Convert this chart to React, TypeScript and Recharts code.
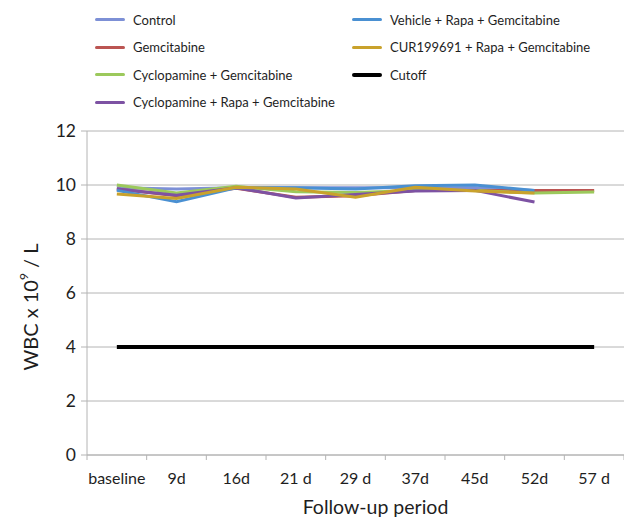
import { LineChart, Line, XAxis, YAxis, CartesianGrid } from "recharts";

const periods = ["baseline", "9d", "16d", "21 d", "29 d", "37d", "45d", "52d", "57 d"];

const control = [9.9, 9.85, 9.9, 9.9, 9.9, 9.9, 9.9, 9.8, null];
const gemcitabine = [9.85, 9.6, 9.88, 9.55, 9.6, 9.8, 9.8, 9.8, 9.8];
const cycloGem = [10.0, 9.7, 9.95, 9.75, 9.72, 9.8, 9.8, 9.7, 9.74];
const cycloRapaGem = [9.85, 9.62, 9.9, 9.52, 9.65, 9.78, 9.8, 9.37, null];
const vehicleRapaGem = [9.8, 9.38, 9.9, 9.9, 9.85, 9.97, 10.0, 9.8, null];
const curRapaGem = [9.67, 9.5, 9.92, 9.85, 9.55, 9.92, 9.78, 9.7, null];
const cutoff = [4, 4, 4, 4, 4, 4, 4, 4, 4];

const yTicks = [0, 2, 4, 6, 8, 10, 12];

const series = [
  { key: "control", name: "Control", color: "#7d90d6", values: control },
  { key: "gem", name: "Gemcitabine", color: "#bb5552", values: gemcitabine },
  { key: "cycloGem", name: "Cyclopamine + Gemcitabine", color: "#9cc95c", values: cycloGem },
  { key: "cycloRapaGem", name: "Cyclopamine + Rapa + Gemcitabine", color: "#7d52a3", values: cycloRapaGem },
  { key: "vehicle", name: "Vehicle + Rapa + Gemcitabine", color: "#4a90d2", values: vehicleRapaGem },
  { key: "cur", name: "CUR199691 + Rapa + Gemcitabine", color: "#c9a22c", values: curRapaGem },
  { key: "cutoff", name: "Cutoff", color: "#000000", values: cutoff },
];

const data = periods.map((p, i) => {
  const row: Record<string, string | number | null> = { period: p };
  series.forEach((s) => {
    row[s.key] = s.values[i];
  });
  return row;
});

const FONT = "Lato, 'Open Sans', sans-serif";
const GRID = "#b4b4b4";
const TEXT = "#1e1e1e";
const TICK_GAP = 18;

const legendCols = [series.slice(0, 4), series.slice(4)];

// category label plus Excel-style tick marks between the categories
const CatTick = (props: any) => {
  const { x, y, payload, index, visibleTicksCount } = props;
  const half = payload.offset || 0;
  const axisY = y - TICK_GAP;
  const isLast = index === visibleTicksCount - 1;
  return (
    <g>
      <line x1={x - half} x2={x - half} y1={axisY} y2={axisY + 5} stroke={GRID} />
      {isLast && <line x1={x + half} x2={x + half} y1={axisY} y2={axisY + 5} stroke={GRID} />}
      <text x={x} y={y} dy="0.71em" textAnchor="middle" fontSize={16} fill={TEXT} fontFamily={FONT}>
        {payload.value}
      </text>
    </g>
  );
};

const YLabel = (props: any) => {
  const vb = props.viewBox || { x: 0, y: 0, width: 0, height: 0 };
  const cx = vb.x + 30;
  const cy = vb.y + vb.height / 2 + 14;
  return (
    <text
      x={cx}
      y={cy}
      transform={`rotate(-90 ${cx} ${cy})`}
      textAnchor="middle"
      dominantBaseline="central"
      fontSize={20}
      fontFamily={FONT}
      fill={TEXT}
    >
      WBC x 10
      <tspan dy={-7} fontSize={12}>9</tspan>
      <tspan dy={7}> / L</tspan>
    </text>
  );
};

const XLabel = (props: any) => {
  const vb = props.viewBox || { x: 0, y: 0, width: 0, height: 0 };
  return (
    <text
      x={vb.x + vb.width / 2 + 20}
      y={vb.y + vb.height - 3}
      textAnchor="middle"
      fontSize={19.5}
      fontFamily={FONT}
      fill={TEXT}
    >
      Follow-up period
    </text>
  );
};

export default function App() {
  return (
    <div style={{ position: "absolute", left: 0, top: 0, width: 624, height: 517, background: "#fff", fontFamily: FONT }}>
      <div style={{ position: "absolute", left: 0, top: 0, width: 624, height: 120 }}>
        {legendCols.map((col, ci) => (
          <div key={ci} style={{ position: "absolute", left: ci === 0 ? 95 : 352, top: 6 }}>
            {col.map((s) => (
              <div key={s.key} style={{ display: "flex", alignItems: "center", height: 27.5 }}>
                <div style={{ width: 30, height: s.key === "cutoff" ? 4 : 3, background: s.color, borderRadius: 2, marginRight: 8 }} />
                <span style={{ fontSize: 13, color: TEXT }}>{s.name}</span>
              </div>
            ))}
          </div>
        ))}
      </div>
      <div style={{ position: "absolute", left: 0, top: 0 }}>
        <LineChart width={624} height={517} data={data} margin={{ top: 131, right: 0, bottom: 0, left: 0 }}>
          <CartesianGrid vertical={false} stroke={GRID} />
          <XAxis
            dataKey="period"
            scale="band"
            height={62}
            axisLine={{ stroke: GRID }}
            tickLine={false}
            tickSize={0}
            tickMargin={TICK_GAP}
            interval={0}
            tick={<CatTick />}
            label={<XLabel />}
          />
          <YAxis
            domain={[0, 12]}
            ticks={yTicks}
            width={87}
            tickSize={6}
            tickMargin={5}
            axisLine={{ stroke: GRID }}
            tickLine={{ stroke: GRID }}
            tick={{ fontSize: 17.5, fill: TEXT, fontFamily: FONT }}
            label={<YLabel />}
          />
          {series.map((s) => (
            <Line
              key={s.key}
              dataKey={s.key}
              name={s.name}
              stroke={s.color}
              strokeWidth={s.key === "cutoff" ? 4 : 3}
              dot={false}
              type="linear"
              isAnimationActive={false}
            />
          ))}
        </LineChart>
      </div>
    </div>
  );
}
